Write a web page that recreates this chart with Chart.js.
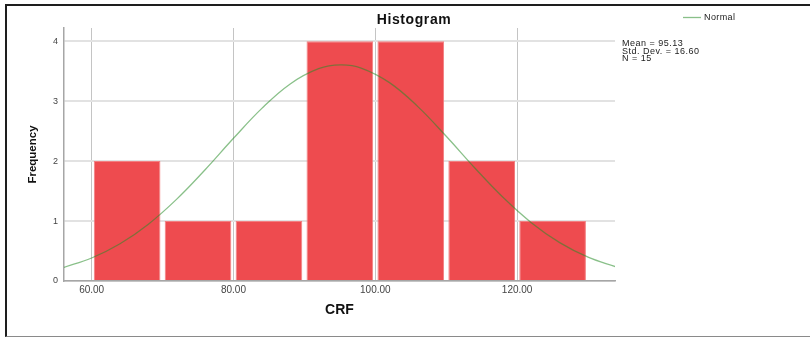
<!DOCTYPE html>
<html>
<head>
<meta charset="utf-8">
<script src="https://cdn.jsdelivr.net/npm/chart.js@4/dist/chart.umd.min.js"></script>
<style>
  html, body { margin: 0; padding: 0; background: #fff; overflow: hidden; }
  #wrap { position: relative; width: 810px; height: 337px; }
  #frame { position: absolute; left: 5px; top: 4px; width: 900px; height: 330px;
           border-top: 2px solid #1e1e1e; border-left: 2px solid #1e1e1e;
           border-bottom: 1px solid #8a8a8a; pointer-events: none; }
</style>
</head>
<body>
<div id="wrap">
  <canvas id="hist" width="810" height="337"></canvas>
  <div id="frame"></div>
</div>
<script>
// histogram bins (centre of each 10-wide bin) and counts
const binCenters = [65, 75, 85, 95, 105, 115, 125];
const frequencies = [2, 1, 1, 4, 4, 2, 1];

// fitted normal curve
const curveX = [56, 60, 64, 68, 72, 76, 80, 84, 88, 92, 95.13, 98, 102, 106, 110, 114, 118, 122, 126, 130, 134];
const curveY = [0.224, 0.384, 0.621, 0.948, 1.366, 1.856, 2.380, 2.879, 3.287, 3.541, 3.605, 3.552, 3.309, 2.909, 2.414, 1.889, 1.396, 0.973, 0.640, 0.397, 0.233];

const xTicks = [60, 80, 100, 120];
const yTicks = [0, 1, 2, 3, 4];

const mean = 95.13;
const stdDev = 16.60;
const n = 15;

const FONT = '"Liberation Sans", Arial, sans-serif';
const curveColor = 'rgba(40, 140, 40, 0.55)';

const spssText = {
    id: 'spssText',
    afterDraw(chart) {
        const ctx = chart.ctx;
        ctx.save();
        ctx.fillStyle = '#111';
        ctx.textBaseline = 'middle';

        // title
        ctx.font = 'bold 14px ' + FONT;
        ctx.letterSpacing = '0.6px';
        ctx.textAlign = 'center';
        ctx.fillText('Histogram', 414, 20);

        // legend
        const curve = chart.data.datasets[0];
        ctx.strokeStyle = curve.borderColor;
        ctx.lineWidth = 1.3;
        ctx.beginPath();
        ctx.moveTo(683, 17.5);
        ctx.lineTo(701, 17.5);
        ctx.stroke();
        ctx.font = '9px ' + FONT;
        ctx.letterSpacing = '0.4px';
        ctx.textAlign = 'left';
        ctx.fillStyle = '#222';
        ctx.fillText(curve.label, 704, 18);

        // stats block
        ctx.letterSpacing = '0.5px';
        const lines = [
            'Mean = ' + mean.toFixed(2),
            'Std. Dev. = ' + stdDev.toFixed(2),
            'N = ' + n
        ];
        lines.forEach((t, i) => ctx.fillText(t, 622, 44 + i * 7.4));
        ctx.restore();
    }
};

const chart = new Chart(document.getElementById('hist'), {
    type: 'bar',
    data: {
        datasets: [{
            type: 'line',
            label: 'Normal',
            data: curveX.map((x, i) => ({ x: x, y: curveY[i] })),
            borderColor: curveColor,
            borderWidth: 1.3,
            pointRadius: 0,
            tension: 0.4,
            fill: false,
            order: 0
        }, {
            type: 'bar',
            label: 'CRF',
            data: binCenters.map((x, i) => ({ x: x, y: frequencies[i] })),
            backgroundColor: '#ee4b4f',
            borderColor: '#f27e80',
            borderWidth: 1,
            categoryPercentage: 1,
            barPercentage: 0.94,
            order: 1
        }]
    },
    options: {
        responsive: false,
        animation: false,
        devicePixelRatio: 1,
        layout: { padding: { left: 0, right: 195, top: 28, bottom: 0 } },
        plugins: {
            legend: { display: false },
            tooltip: { enabled: false },
            title: { display: false }
        },
        scales: {
            x: {
                type: 'linear',
                min: 56.1,
                max: 133.8,
                offset: false,
                afterBuildTicks: s => { s.ticks = xTicks.map(v => ({ value: v })); },
                afterFit: s => { s.height = 56; },
                ticks: {
                    callback: v => Number(v).toFixed(2),
                    font: { family: FONT, size: 10 },
                    color: '#444',
                    padding: 3,
                    maxRotation: 0,
                    autoSkip: false
                },
                grid: { color: '#c4c4c4', lineWidth: 1, drawTicks: false, offset: false },
                border: { color: '#a6a6a6', width: 1.5 },
                title: {
                    display: true,
                    text: 'CRF',
                    color: '#111',
                    font: { family: FONT, size: 14, weight: 'bold' },
                    padding: { top: 0, bottom: 18 }
                }
            },
            y: {
                min: 0,
                max: 4.22,
                afterBuildTicks: s => { s.ticks = yTicks.map(v => ({ value: v })); },
                afterFit: s => { s.width = 64; },
                ticks: {
                    font: { family: FONT, size: 9 },
                    color: '#444',
                    padding: 6
                },
                grid: { color: '#e2e2e2', lineWidth: 2, drawTicks: false },
                border: { color: '#a6a6a6', width: 1.5 },
                title: {
                    display: true,
                    text: 'Frequency',
                    color: '#111',
                    font: { family: FONT, size: 11.5, weight: 'bold' },
                    padding: { top: 26, bottom: 0 }
                }
            }
        }
    },
    plugins: [spssText]
});
</script>
</body>
</html>
